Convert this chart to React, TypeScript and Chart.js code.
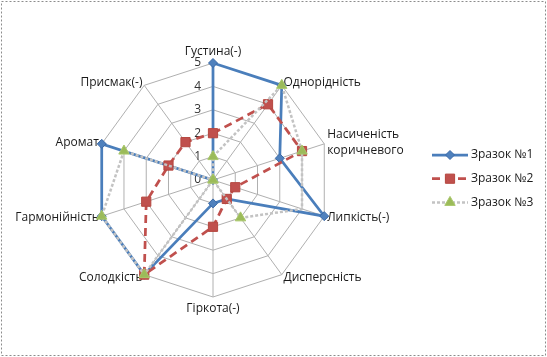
import React, { useEffect, useRef } from 'react';
import { Chart, registerables, RadialLinearScale } from 'chart.js';

Chart.register(...registerables);

// ---- data ----
const categories: (string | string[])[] = [
  'Густина(-)',
  'Однорідність',
  ['Насиченість', 'коричневого'],
  'Липкість(-)',
  'Дисперсність',
  'Гіркота(-)',
  'Солодкість',
  'Гармонійність',
  'Аромат',
  'Присмак(-)',
];
const seriesNames = ['Зразок №1', 'Зразок №2', 'Зразок №3'];
const sample1 = [5, 5, 3, 5, 1, 1, 5, 5, 5, 0];
const sample2 = [2, 4, 4, 1, 1, 2, 5, 3, 2, 2];
const sample3 = [1, 5, 4, 4, 2, 0, 5, 5, 4, 0];
const scaleMin = 0;
const scaleMax = 5;
const scaleStep = 1;

// ---- layout constants ----
const CX = 213;
const CY = 180;
const RADIUS = 117;
const TICK_GAP = 12;
const FONT = "'Open Sans', 'Noto Sans', sans-serif";

class FixedRadialScale extends RadialLinearScale {
  static id = 'fixedRadial';

  setCenterPoint() {
    (this as any).xCenter = CX;
    (this as any).yCenter = CY;
    (this as any).drawingArea = RADIUS;
  }

  fit() {
    super.fit();
    const self = this as any;
    const items = self._pointLabelItems || [];
    const n = items.length;
    for (let i = 0; i < n; i++) {
      const it = items[i];
      const w = it.right - it.left;
      const h = it.bottom - it.top;
      const o = self.options.pointLabels.setContext(self.getPointLabelContext(i));
      const pad = o.padding;
      const p = self.getPointPosition(i, self.drawingArea + pad);
      const deg = Math.round((360 * i) / n);
      let y: number;
      let align: string;
      if (deg === 0) {
        y = p.y - h;
        align = 'center';
      } else if (deg === 180) {
        y = p.y;
        align = 'center';
      } else {
        y = p.y - h / 2;
        align = deg < 180 ? 'left' : 'right';
      }
      const left = align === 'center' ? p.x - w / 2 : align === 'left' ? p.x : p.x - w;
      items[i] = {
        ...it,
        visible: true,
        x: p.x,
        y,
        textAlign: align,
        left,
        right: left + w,
        top: y,
        bottom: y + h,
      };
    }
  }

  drawLabels() {
    const self = this as any;
    const opts = self.options;
    const t = opts.ticks;
    if (!t.display) return;
    const ctx: CanvasRenderingContext2D = self.ctx;
    ctx.save();
    const f = t.font || {};
    ctx.font = `${f.size || 11}px ${f.family || FONT}`;
    ctx.fillStyle = t.color;
    ctx.textAlign = 'right';
    ctx.textBaseline = 'middle';
    self.ticks.forEach((tick: any) => {
      const off = self.getDistanceFromCenterForValue(tick.value);
      ctx.fillText(String(tick.label), self.xCenter - TICK_GAP, self.yCenter - off);
    });
    ctx.restore();
  }
}
Chart.register(FixedRadialScale as any);

const frameLegendPlugin = {
  id: 'frameLegend',
  beforeDraw(chart: any) {
    const ctx: CanvasRenderingContext2D = chart.ctx;
    ctx.save();
    ctx.fillStyle = '#ffffff';
    ctx.fillRect(0, 0, chart.width, chart.height);
    ctx.strokeStyle = '#8c8c8c';
    ctx.lineWidth = 1;
    ctx.setLineDash([2, 2]);
    ctx.strokeRect(1.5, 1.5, chart.width - 3, chart.height - 3);
    ctx.restore();
  },
  afterDraw(chart: any) {
    const ctx: CanvasRenderingContext2D = chart.ctx;
    const x0 = 432;
    const x1 = 468;
    const xm = (x0 + x1) / 2;
    chart.data.datasets.forEach((ds: any, i: number) => {
      const y = 155 + i * 23.7;
      ctx.save();
      ctx.strokeStyle = ds.borderColor;
      ctx.lineWidth = ds.borderWidth;
      ctx.setLineDash(ds.borderDash || []);
      ctx.beginPath();
      ctx.moveTo(x0, y);
      ctx.lineTo(x1, y);
      ctx.stroke();
      ctx.setLineDash([]);
      ctx.fillStyle = ds.pointBackgroundColor;
      ctx.strokeStyle = ds.pointBorderColor;
      ctx.lineWidth = 1;
      const r = ds.legendMarkerRadius;
      ctx.beginPath();
      if (ds.pointStyle === 'rectRot') {
        ctx.moveTo(xm, y - r);
        ctx.lineTo(xm + r, y);
        ctx.lineTo(xm, y + r);
        ctx.lineTo(xm - r, y);
      } else if (ds.pointStyle === 'rect') {
        const s = r * Math.SQRT1_2;
        ctx.rect(xm - s, y - s, 2 * s, 2 * s);
      } else {
        ctx.moveTo(xm, y - r);
        ctx.lineTo(xm + r * 0.866, y + r * 0.5);
        ctx.lineTo(xm - r * 0.866, y + r * 0.5);
      }
      ctx.closePath();
      ctx.fill();
      ctx.stroke();
      ctx.fillStyle = '#1a1a1a';
      ctx.font = `12px ${FONT}`;
      ctx.textAlign = 'left';
      ctx.textBaseline = 'middle';
      ctx.fillText(ds.label, x1 + 3, y);
      ctx.restore();
    });
  },
};

export default function App() {
  const ref = useRef<HTMLCanvasElement | null>(null);

  useEffect(() => {
    document.body.style.margin = '0';
    const canvas = ref.current;
    if (!canvas) return;
    const chart = new Chart(canvas, {
      type: 'radar',
      data: {
        labels: categories as any,
        datasets: [
          {
            label: seriesNames[0],
            data: sample1,
            borderColor: '#4A7EBB',
            borderWidth: 2.75,
            backgroundColor: 'transparent',
            fill: false,
            pointStyle: 'rectRot',
            pointRadius: 4.5,
            legendMarkerRadius: 4.5,
            pointBackgroundColor: '#4F81BD',
            pointBorderColor: '#3B6AA8',
            pointBorderWidth: 1,
            order: 3,
          },
          {
            label: seriesNames[1],
            data: sample2,
            borderColor: '#C0504D',
            borderWidth: 2.75,
            borderDash: [8, 5],
            backgroundColor: 'transparent',
            fill: false,
            pointStyle: 'rect',
            pointRadius: 6.5,
            legendMarkerRadius: 6.5,
            pointBackgroundColor: '#C0504D',
            pointBorderColor: '#B5473F',
            pointBorderWidth: 1,
            order: 2,
          },
          {
            label: seriesNames[2],
            data: sample3,
            borderColor: '#C3C3C3',
            borderWidth: 2.5,
            borderDash: [3, 2],
            backgroundColor: 'transparent',
            fill: false,
            pointStyle: 'triangle',
            pointRadius: (c: any) => (c.dataIndex === 3 ? 0 : 6),
            legendMarkerRadius: 6,
            pointBackgroundColor: '#9BBB59',
            pointBorderColor: '#A9C76B',
            pointBorderWidth: 1,
            order: 1,
          },
        ] as any,
      },
      options: {
        responsive: false,
        animation: false,
        devicePixelRatio: 1,
        plugins: {
          legend: { display: false },
          tooltip: { enabled: false },
        },
        elements: { line: { tension: 0 } },
        scales: {
          r: {
            type: 'fixedRadial' as any,
            min: scaleMin,
            max: scaleMax,
            ticks: {
              stepSize: scaleStep,
              color: '#333333',
              font: { size: 12, family: FONT },
              showLabelBackdrop: false,
            },
            grid: { color: '#B0B0B0', lineWidth: 1 },
            angleLines: { color: '#B0B0B0', lineWidth: 1 },
            pointLabels: {
              color: '#1a1a1a',
              padding: 3,
              font: { size: 12, family: FONT, lineHeight: 1.35 },
            },
          } as any,
        },
      },
      plugins: [frameLegendPlugin],
    });
    return () => chart.destroy();
  }, []);

  return (
    <div style={{ width: 547, height: 357 }}>
      <canvas ref={ref} width={547} height={357} style={{ display: 'block' }} />
    </div>
  );
}
